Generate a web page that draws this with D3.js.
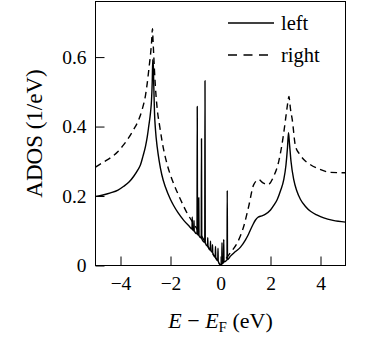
<!DOCTYPE html>
<html>
<head>
<meta charset="utf-8">
<script src="https://cdn.jsdelivr.net/npm/d3@7"></script>
<style>
  html, body { margin: 0; padding: 0; background: #fff; }
  svg { display: block; }
</style>
</head>
<body>
<svg id="chart" width="366" height="338"></svg>
<script>
// Energy grid (eV) and ADOS (1/eV) of the left electrode, including the sharp resonances near E_F
const energyLeft = [
  -5.00, -4.70, -4.40, -4.10, -3.87, -3.65, -3.47, -3.30, -3.20, -3.10, -3.00, -2.93, -2.87, -2.80, -2.76, -2.73,
  -2.71, -2.70, -2.69, -2.67, -2.64, -2.60, -2.53, -2.45, -2.35, -2.20, -2.00, -1.87, -1.70, -1.47, -1.25,
  -1.14, -1.13, -1.12, -1.07, -1.06, -1.05, -0.94, -0.93, -0.92, -0.88, -0.87, -0.86, -0.77, -0.76, -0.75,
  -0.63, -0.62, -0.61, -0.52, -0.51, -0.50, -0.41, -0.40, -0.39, -0.33, -0.32, -0.31, -0.21, -0.20, -0.19,
  -0.11, -0.10, -0.09, 0.00, 0.05, 0.06, 0.07, 0.12, 0.13, 0.14, 0.26, 0.27, 0.28,
  0.40, 0.60, 0.80, 1.00, 1.10, 1.20, 1.30, 1.40, 1.50, 1.65, 1.80, 2.00, 2.15, 2.27, 2.40, 2.53, 2.62, 2.68,
  2.72, 2.76, 2.82, 2.93, 3.05, 3.20, 3.40, 3.60, 3.87, 4.13, 4.50, 5.00
];
const adosLeft = [
  0.199, 0.203, 0.209, 0.217, 0.228, 0.241, 0.257, 0.276, 0.290, 0.315, 0.343, 0.370, 0.401, 0.440, 0.475, 0.530,
  0.593, 0.575, 0.590, 0.520, 0.440, 0.390, 0.340, 0.300, 0.262, 0.225, 0.190, 0.172, 0.152, 0.130, 0.113,
  0.105, 0.140, 0.104, 0.100, 0.130, 0.099, 0.091, 0.458, 0.090, 0.087, 0.195, 0.086, 0.079, 0.365, 0.077,
  0.067, 0.532, 0.065, 0.056, 0.080, 0.054, 0.045, 0.070, 0.043, 0.038, 0.060, 0.036, 0.025, 0.055, 0.023,
  0.014, 0.050, 0.012, 0.002, 0.005, 0.066, 0.006, 0.009, 0.075, 0.010, 0.016, 0.216, 0.017,
  0.027, 0.040, 0.053, 0.074, 0.087, 0.103, 0.118, 0.131, 0.139, 0.143, 0.148, 0.160, 0.175, 0.190, 0.215, 0.247, 0.290, 0.340,
  0.382, 0.350, 0.300, 0.247, 0.215, 0.190, 0.170, 0.156, 0.145, 0.137, 0.130, 0.125
];

// Energy grid (eV) and ADOS (1/eV) of the right electrode
const energyRight = [
  -5.00, -4.70, -4.40, -4.10, -3.87, -3.65, -3.47, -3.30, -3.13, -3.00, -2.93, -2.85, -2.80, -2.76, -2.72,
  -2.70, -2.68, -2.64, -2.58, -2.53, -2.43, -2.33, -2.13, -2.00, -1.87, -1.60, -1.33, -1.07, -0.93, -0.80,
  -0.53, -0.30, -0.10, 0.00, 0.20, 0.40, 0.67, 0.93, 1.13, 1.33, 1.53, 1.70, 1.90, 2.13, 2.33, 2.53, 2.60,
  2.67, 2.74, 2.77, 2.80, 2.87, 3.00, 3.17, 3.33, 3.60, 3.87, 4.40, 5.00
];
const adosRight = [
  0.283, 0.297, 0.310, 0.328, 0.348, 0.370, 0.392, 0.415, 0.450, 0.490, 0.525, 0.575, 0.607, 0.640, 0.682,
  0.650, 0.620, 0.560, 0.490, 0.450, 0.400, 0.355, 0.290, 0.260, 0.235, 0.190, 0.150, 0.120, 0.104, 0.090,
  0.058, 0.033, 0.012, 0.002, 0.018, 0.037, 0.065, 0.113, 0.171, 0.233, 0.247, 0.238, 0.233, 0.257, 0.300, 0.382, 0.420,
  0.458, 0.487, 0.470, 0.450, 0.420, 0.343, 0.320, 0.305, 0.290, 0.280, 0.268, 0.267
];

const xTicks = [-4, -2, 0, 2, 4];
const yTicks = [0, 0.2, 0.4, 0.6];
const yTickLabels = ["0", "0.2", "0.4", "0.6"];
const seriesNames = ["left", "right"];

const FONT = "'Liberation Serif', 'DejaVu Serif', serif";

const svg = d3.select("#chart");
const plot = { left: 95.5, right: 345.5, top: 1.5, bottom: 265.5 };

const x = d3.scaleLinear().domain([-5, 5]).range([plot.left, plot.right]);
const y = d3.scaleLinear().domain([0, 0.76]).range([plot.bottom, plot.top]);

const line = d3.line()
  .x(d => x(d[0]))
  .y(d => y(d[1]))
  .curve(d3.curveMonotoneX);

svg.append("clipPath").attr("id", "plot-clip")
  .append("rect")
  .attr("x", plot.left).attr("y", plot.top)
  .attr("width", plot.right - plot.left).attr("height", plot.bottom - plot.top);

const curves = svg.append("g").attr("clip-path", "url(#plot-clip)");

curves.append("path")
  .datum(d3.zip(energyRight, adosRight))
  .attr("d", line)
  .attr("fill", "none")
  .attr("stroke", "#000")
  .attr("stroke-width", 1.4)
  .attr("stroke-dasharray", "6.5,4.5");

curves.append("path")
  .datum(d3.zip(energyLeft, adosLeft))
  .attr("d", line)
  .attr("fill", "none")
  .attr("stroke", "#000")
  .attr("stroke-width", 1.4)
  .attr("stroke-linejoin", "round");

// Axes with inward ticks
const xAxis = d3.axisBottom(x).tickValues(xTicks).tickSize(-9).tickPadding(10.5)
  .tickFormat(d => d < 0 ? "\u2212" + Math.abs(d) : String(d));
const gx = svg.append("g").attr("transform", `translate(0,${plot.bottom})`).call(xAxis);

const yAxis = d3.axisLeft(y).tickValues(yTicks).tickSize(-9).tickPadding(9)
  .tickFormat((d, i) => yTickLabels[i]);
const gy = svg.append("g").attr("transform", `translate(${plot.left},0)`).call(yAxis);

[gx, gy].forEach(g => {
  g.attr("font-family", null).attr("font-size", null);
  g.select(".domain").remove();
  g.selectAll(".tick line").attr("stroke", "#000").attr("stroke-width", 1);
  g.selectAll(".tick text").attr("fill", "#000").style("font-family", FONT).style("font-size", "19.5px");
});
gx.selectAll(".tick text").attr("dy", "0.71em");

// Frame
svg.append("rect")
  .attr("x", plot.left).attr("y", plot.top)
  .attr("width", plot.right - plot.left).attr("height", plot.bottom - plot.top)
  .attr("fill", "none").attr("stroke", "#000").attr("stroke-width", 1);

// Axis titles
const xTitle = svg.append("text")
  .attr("x", (plot.left + plot.right) / 2).attr("y", 328)
  .attr("text-anchor", "middle")
  .style("font-family", FONT).style("font-size", "22px");
xTitle.append("tspan").style("font-style", "italic").text("E");
xTitle.append("tspan").text(" \u2212 ");
xTitle.append("tspan").style("font-style", "italic").text("E");
xTitle.append("tspan").style("font-size", "15px").attr("dy", 4).text("F");
xTitle.append("tspan").attr("dy", -4).text(" (eV)");

svg.append("text")
  .attr("transform", `translate(42,${(plot.top + plot.bottom) / 2}) rotate(-90)`)
  .attr("text-anchor", "middle")
  .style("font-family", FONT).style("font-size", "23px")
  .text("ADOS (1/eV)");

// Legend
const legend = svg.append("g");
seriesNames.forEach((name, i) => {
  const ly = 23 + i * 32;
  legend.append("line")
    .attr("x1", 228).attr("x2", 274).attr("y1", ly).attr("y2", ly)
    .attr("stroke", "#000").attr("stroke-width", 1.4)
    .attr("stroke-dasharray", i === 1 ? "9,6.5" : null);
  legend.append("text")
    .attr("x", 281).attr("y", ly + 7)
    .style("font-family", FONT).style("font-size", "20.5px")
    .text(name);
});
</script>
</body>
</html>
